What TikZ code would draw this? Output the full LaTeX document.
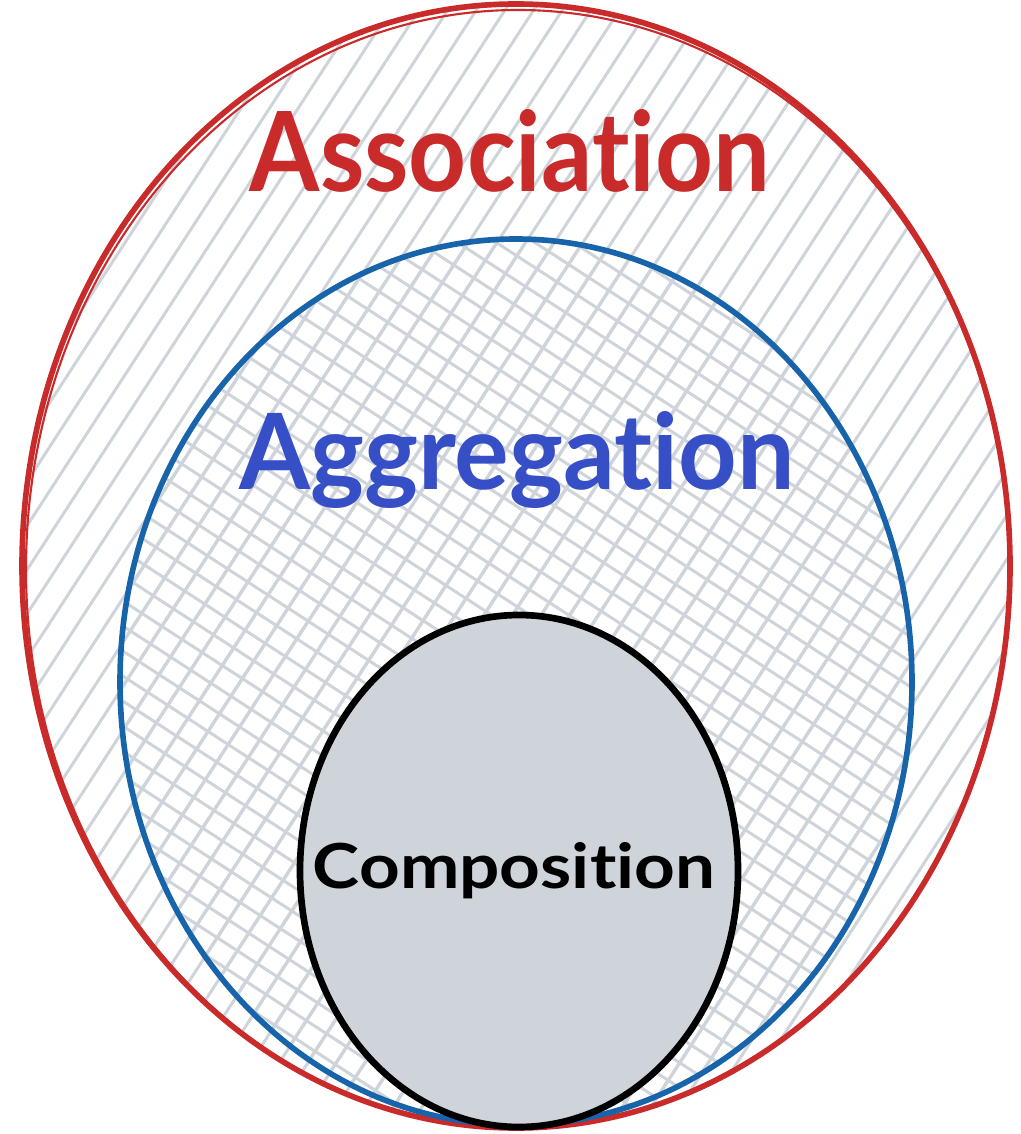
\documentclass[tikz,border=0pt]{standalone}
\usepackage{fontspec}
\setmainfont{Lato}[Ligatures={NoCommon,NoRare}]
\definecolor{exred}{HTML}{C92A2A}
\definecolor{exblue}{HTML}{1864AB}
\definecolor{exindigo}{HTML}{364FC7}
\definecolor{exgrey}{HTML}{CED4DA}
\tikzset{
  hatchline/.style={draw=exgrey, line width=0.85pt, line cap=round},
  outline/.style={line width=1.6pt},
  lbl/.style={inner sep=0pt, anchor=base, font=\bfseries},
}
\begin{document}
\begin{tikzpicture}[x=0.01cm, y=-0.01cm]
\useasboundingbox (0,0) rectangle (1020,1134);
% --- outer (Association) hachure
\begin{scope}
  \clip (516,566) ellipse [x radius=494, y radius=562];
  \begin{scope}[rotate around={57:(516,566)}]
    \foreach \i in {-40,...,40} {
      \draw[hatchline] (-400,566+\i*24) -- (1430,566+\i*24);
    }
  \end{scope}
\end{scope}
% --- middle (Aggregation) cross-hatch
\begin{scope}
  \clip (516,681) ellipse [x radius=396, y radius=444];
  \begin{scope}[rotate around={57:(516,681)}]
    \foreach \i in {-35,...,35} {
      \draw[hatchline] (-300,681+\i*24+9) -- (1330,681+\i*24+9);
    }
  \end{scope}
  \begin{scope}[rotate around={-33:(516,681)}]
    \foreach \i in {-35,...,35} {
      \draw[hatchline] (-300,681+\i*21) -- (1330,681+\i*21);
    }
  \end{scope}
\end{scope}
% --- ellipses
\draw[outline, exred] (516,566) ellipse [x radius=494, y radius=562];
\draw[outline, exred, line width=0.6pt] (518,569) ellipse [x radius=492, y radius=559];
\draw[outline, exblue] (516,682) ellipse [x radius=396, y radius=443];
\draw[outline, line width=1.9pt, fill=exgrey] (519,871) ellipse [x radius=219, y radius=256];
% --- labels
\node[lbl, text=exred] (assoc) at (510,192) {\resizebox{5.2cm}{0.82cm}{Association}};
\node[lbl, text=exindigo] (aggr) at (517,490) {\resizebox{5.55cm}{0.78cm}{Aggregation}};
\node[lbl, text=black] (comp) at (514,888) {\resizebox{4.02cm}{0.46cm}{Composition}};
\end{tikzpicture}
\end{document}
